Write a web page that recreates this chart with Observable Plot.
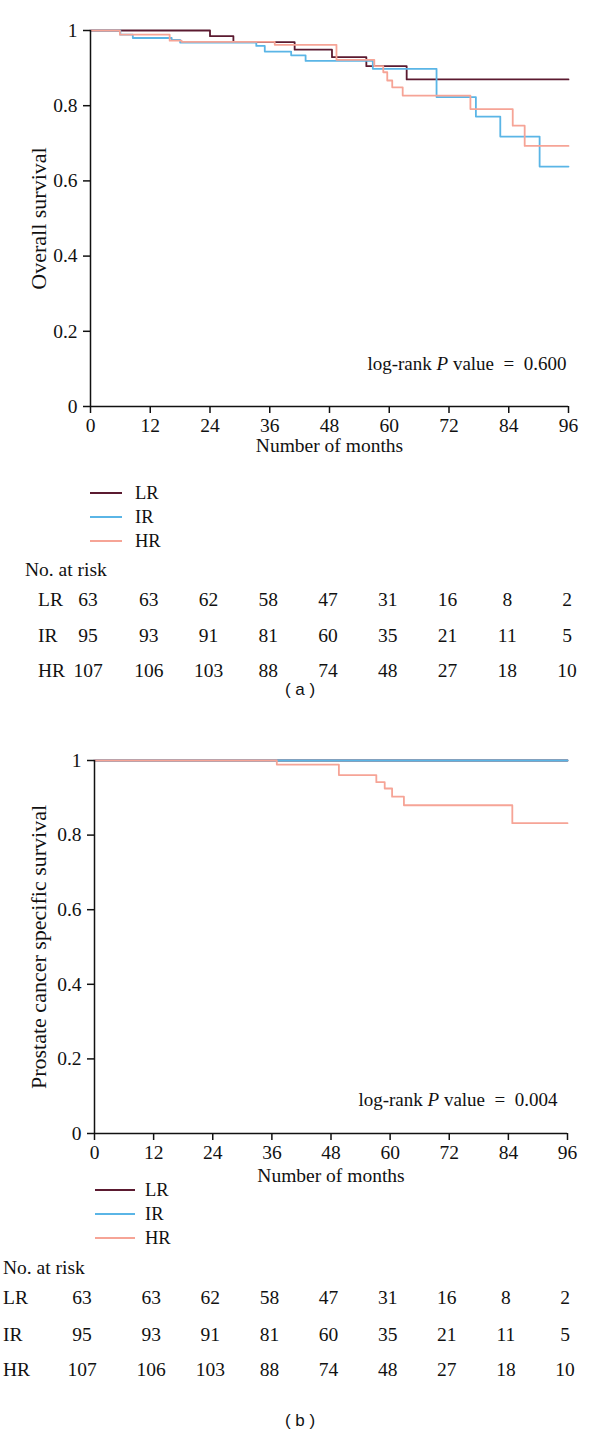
<!DOCTYPE html>
<html><head><meta charset="utf-8">
<script src="https://cdn.jsdelivr.net/npm/d3@7"></script>
<script src="https://cdn.jsdelivr.net/npm/@observablehq/plot@0.6"></script>
<style>
body{margin:0;background:#fff;}
#page{position:relative;width:600px;height:1449px;font-family:"Liberation Serif","DejaVu Serif",serif;color:#111;overflow:hidden;}
#page svg{position:absolute;left:0;}
.abs{position:absolute;white-space:nowrap;line-height:1;}
</style></head><body><div id="page"></div>
<script>
// ---------- data ----------
const months = [0, 12, 24, 36, 48, 60, 72, 84, 96];
const groups = ["LR", "IR", "HR"];
const colors = ["#5b1a30", "#5ab5e6", "#f6a496"];
const yTicks = [0, 0.2, 0.4, 0.6, 0.8, 1];

// (a) Overall survival – step times (months) and survival values
const osLR_t = [0, 24, 28.7, 41, 48.5, 55.4, 63.5, 96];
const osLR_s = [1, 0.985, 0.969, 0.949, 0.929, 0.905, 0.870, 0.870];
const osIR_t = [0, 6, 8.5, 16.3, 18, 33.3, 35, 40.3, 43.2, 56.7, 69.5, 77.4, 82.3, 90.2, 96];
const osIR_s = [1, 0.989, 0.980, 0.975, 0.968, 0.959, 0.944, 0.934, 0.919, 0.898, 0.823, 0.771, 0.718, 0.638, 0.638];
const osHR_t = [0, 5.9, 15.9, 18.3, 37, 49.4, 57, 58.8, 59.6, 60.6, 62.7, 76.3, 84.8, 87.2, 96];
const osHR_s = [1, 0.989, 0.973, 0.970, 0.962, 0.922, 0.905, 0.889, 0.867, 0.849, 0.827, 0.791, 0.747, 0.693, 0.693];

// (b) Prostate cancer specific survival
const pcLR_t = [0, 96];
const pcLR_s = [1, 1];
const pcIR_t = [0, 96];
const pcIR_s = [1, 1];
const pcHR_t = [0, 37, 49.6, 57.2, 58.9, 60.4, 62.8, 84.8, 96];
const pcHR_s = [1, 0.989, 0.961, 0.942, 0.925, 0.903, 0.880, 0.832, 0.832];

// numbers at risk (same table in both panels)
const atRiskLR = [63, 63, 62, 58, 47, 31, 16, 8, 2];
const atRiskIR = [95, 93, 91, 81, 60, 35, 21, 11, 5];
const atRiskHR = [107, 106, 103, 88, 74, 48, 27, 18, 10];

const pA = "0.600";
const pB = "0.004";

// ---------- helpers ----------
const page = document.getElementById("page");
const FS = 19.5;

function addText(txt, x, y, o = {}) {
  const d = document.createElement("div");
  d.className = "abs";
  d.textContent = txt;
  d.style.left = x + "px";
  d.style.top = y + "px";
  const a = o.anchor || "start";
  const tx = a === "middle" ? "-50%" : a === "end" ? "-100%" : "0";
  d.style.transform = `translate(${tx},-50%)`;
  d.style.fontSize = (o.size || FS) + "px";
  if (o.font) d.style.fontFamily = o.font;
  page.appendChild(d);
  return d;
}
function addLine(x1, x2, y, color) {
  const d = document.createElement("div");
  d.className = "abs";
  d.style.left = x1 + "px";
  d.style.top = (y - 1) + "px";
  d.style.width = (x2 - x1) + "px";
  d.style.height = "2px";
  d.style.background = color;
  page.appendChild(d);
}

function kmPanel(cfg) {
  const data = [];
  cfg.series.forEach(([g, t, s]) => t.forEach((m, i) => data.push({group: g, month: m, surv: s[i]})));
  const plot = Plot.plot({
    width: 600,
    height: cfg.height,
    marginLeft: cfg.mL,
    marginRight: cfg.mR,
    marginTop: 30,
    marginBottom: cfg.height - 30 - cfg.area,
    style: {fontFamily: "'Liberation Serif', serif", fontSize: FS + "px", background: "transparent", color: "#111", overflow: "visible"},
    x: {domain: [0, 96]},
    y: {domain: [0, 1]},
    color: {domain: groups, range: colors},
    marks: [
      Plot.line(data, {x: "month", y: "surv", z: "group", stroke: "group", curve: "step-after", strokeWidth: 1.8}),
      Plot.axisX({ticks: months, tickSize: 7, tickPadding: 5, strokeWidth: 1.5, fontSize: FS,
        label: "Number of months", labelAnchor: "center", labelArrow: "none", labelOffset: cfg.xLabelOffset}),
      Plot.axisY({ticks: yTicks, tickSize: 7, tickPadding: 6, strokeWidth: 1.5, fontSize: FS,
        tickFormat: d => (d === 0 || d === 1) ? String(d) : d.toFixed(1),
        label: null}),
      Plot.text([cfg.yLabel], {text: d => d, frameAnchor: "left", textAnchor: "middle", rotate: -90,
        dx: -cfg.yLabelDx, fontSize: 22, fill: "#111"}),
      Plot.ruleY([0], {stroke: "#111", strokeWidth: 1.5}),
      Plot.ruleX([0], {stroke: "#111", strokeWidth: 1.5}),
      Plot.text([cfg.pText], {text: d => d, frameAnchor: "bottom-right", textAnchor: "end",
        dx: cfg.pdx, dy: cfg.pdy, fontSize: 19, fill: "#111"})
    ]
  });
  plot.style.top = cfg.top + "px";
  page.appendChild(plot);
  // italic P in the log-rank note
  d3.select(plot).selectAll("text").each(function () {
    if (this.textContent === cfg.pText) {
      const val = cfg.pText.split("= ")[1];
      const t = d3.select(this);
      t.text(null);
      t.append("tspan").text("log-rank ");
      t.append("tspan").attr("font-style", "italic").text("P");
      t.append("tspan").text(" value\u2002=\u2002" + val);
    }
  });
  return plot;
}

function legendAndTable(plot, cfg) {
  const sx = plot.scale("x");
  groups.forEach((g, i) => {
    addLine(cfg.legX1, cfg.legX2, cfg.legY[i], colors[i]);
    addText(g, cfg.legLabelX, cfg.legY[i], {size: 18.5});
  });
  addText("No. at risk", cfg.narX, cfg.narY);
  const rows = [atRiskLR, atRiskIR, atRiskHR];
  rows.forEach((r, i) => {
    addText(groups[i], cfg.rowLabelX, cfg.rowY[i]);
    r.forEach((n, j) => addText(String(n), sx.apply(months[j]) + (j === 0 ? cfg.firstDx : cfg.colDx), cfg.rowY[i], {anchor: "middle"}));
  });
  addText("( " + cfg.tag + " )", 300, cfg.tagY, {anchor: "middle", size: 17, font: "'Liberation Sans', Arial, sans-serif"});
}

// ---------- panel (a) ----------
const plotA = kmPanel({
  top: 0, height: 470, area: 376, mL: 90, mR: 32,
  yLabel: "Overall survival", yLabelDx: 52, xLabelOffset: 45,
  series: [["LR", osLR_t, osLR_s], ["IR", osIR_t, osIR_s], ["HR", osHR_t, osHR_s]],
  pText: "log-rank P value = " + pA, pdx: -2, pdy: -37
});
legendAndTable(plotA, {
  legX1: 90, legX2: 122, legLabelX: 135, legY: [493, 517, 541],
  narX: 25, narY: 570, rowLabelX: 38, rowY: [600, 636, 671], colDx: -1, firstDx: -2,
  tag: "a", tagY: 689
});

// ---------- panel (b) ----------
const plotB = kmPanel({
  top: 730, height: 465, area: 373, mL: 94, mR: 33,
  yLabel: "Prostate cancer specific survival", yLabelDx: 56, xLabelOffset: 48,
  series: [["LR", pcLR_t, pcLR_s], ["IR", pcIR_t, pcIR_s], ["HR", pcHR_t, pcHR_s]],
  pText: "log-rank P value = " + pB, pdx: -10, pdy: -28
});
legendAndTable(plotB, {
  legX1: 95, legX2: 135, legLabelX: 145, legY: [1190, 1214, 1238],
  narX: 3, narY: 1268, rowLabelX: 3, rowY: [1298, 1335, 1370], colDx: -2, firstDx: -12,
  tag: "b", tagY: 1420
});
</script></body></html>
